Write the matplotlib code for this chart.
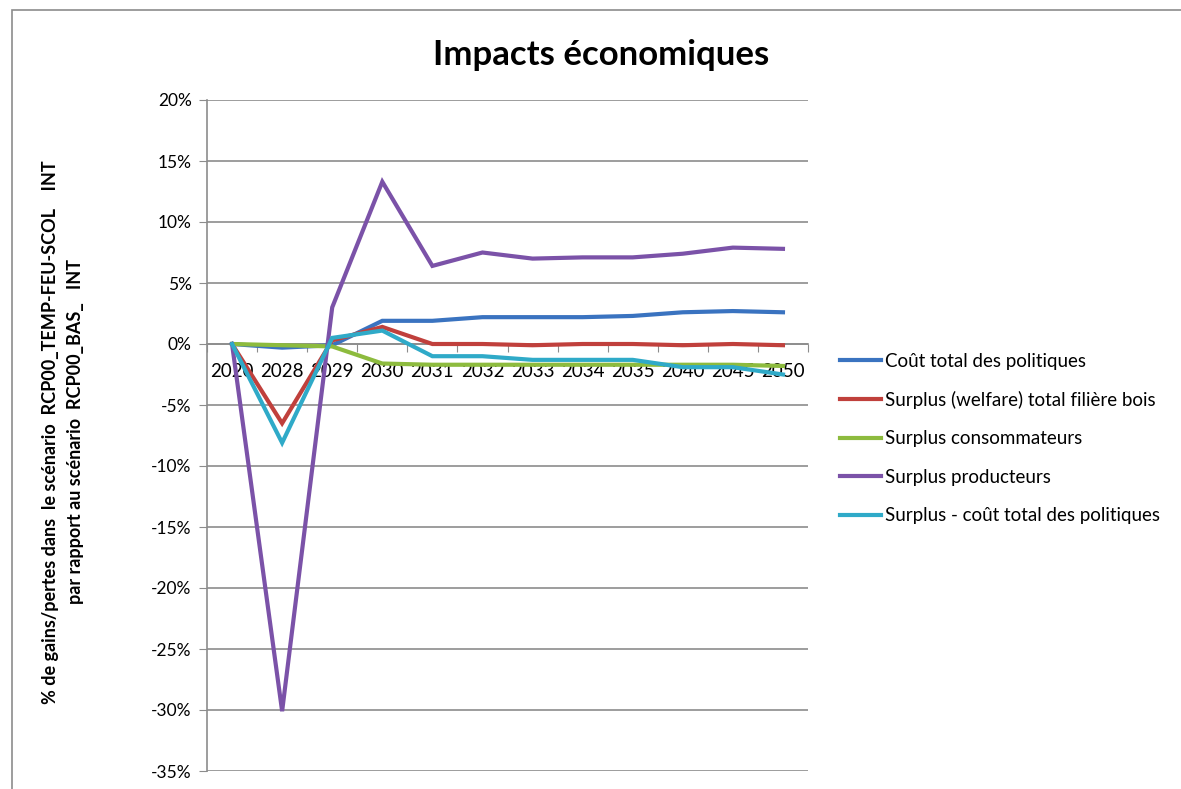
import matplotlib
matplotlib.use("Agg")
import matplotlib.pyplot as plt
from matplotlib.patches import Rectangle
from matplotlib.ticker import FixedLocator, FuncFormatter

plt.rcParams['font.family'] = ['Lato', 'DejaVu Sans']

years = ["2020", "2028", "2029", "2030", "2031", "2032", "2033", "2034", "2035", "2040", "2045", "2050"]
cout_total = [0.0, -0.3, -0.1, 1.9, 1.9, 2.2, 2.2, 2.2, 2.3, 2.6, 2.7, 2.6]
surplus_welfare = [0.0, -6.5, 0.3, 1.4, 0.0, 0.0, -0.1, 0.0, 0.0, -0.1, 0.0, -0.1]
surplus_conso = [0.0, -0.1, -0.2, -1.6, -1.7, -1.7, -1.7, -1.7, -1.7, -1.7, -1.7, -1.8]
surplus_prod = [0.0, -30.1, 3.0, 13.3, 6.4, 7.5, 7.0, 7.1, 7.1, 7.4, 7.9, 7.8]
surplus_moins_cout = [0.0, -8.1, 0.5, 1.1, -1.0, -1.0, -1.3, -1.3, -1.3, -1.9, -1.9, -2.5]

series_names = ["Coût total des politiques", "Surplus (welfare) total filière bois",
                "Surplus consommateurs", "Surplus producteurs", "Surplus - coût total des politiques"]
series_values = [cout_total, surplus_welfare, surplus_conso, surplus_prod, surplus_moins_cout]
colors = ["#3A73C0", "#C0403C", "#8DBB3E", "#7B52A8", "#2FAAC8"]

fig = plt.figure(figsize=(11.81, 7.89), dpi=100)
fig.patches.append(Rectangle((12/1181, -0.1), 1.2, 1 - 10/789 + 0.1, transform=fig.transFigure,
                             fill=False, edgecolor="#8c8c8c", linewidth=1.2))

ax = fig.add_axes([207/1181, 1 - 771/789, 601/1181, 671/789])
x = list(range(len(years)))
for name, vals, c in zip(series_names, series_values, colors):
    ax.plot(x, vals, color=c, linewidth=3, label=name, solid_joinstyle='miter', zorder=3)

ax.set_xlim(-0.5, len(years) - 0.5)
ax.set_ylim(-35, 20)
ax.set_yticks(range(-35, 21, 5))
ax.yaxis.set_major_formatter(FuncFormatter(lambda v, p: f"{int(round(v))}%"))
ax.grid(axis='y', color="#8c8c8c", linewidth=1.2)
ax.set_axisbelow(True)

for s in ["top", "right"]:
    ax.spines[s].set_visible(False)
ax.spines["left"].set_color("#8c8c8c")
ax.spines["left"].set_linewidth(1.2)
ax.spines["bottom"].set_position(("data", 0))
ax.spines["bottom"].set_color("#8c8c8c")
ax.spines["bottom"].set_linewidth(1.2)

ax.tick_params(axis='y', direction='out', length=6, color="#8c8c8c", labelsize=12.5, pad=5)
ax.xaxis.set_major_locator(FixedLocator([i + 0.5 for i in range(-1, len(years))]))
ax.xaxis.set_minor_locator(FixedLocator(x))
ax.tick_params(axis='x', which='major', direction='out', length=6, color="#8c8c8c", labelbottom=False)
ax.tick_params(axis='x', which='minor', length=0, labelsize=13.5, pad=14)
ax.set_xticks(x, years, minor=True)
for lbl in ax.xaxis.get_minorticklabels():
    lbl.set_zorder(5)

fig.text(601/1181, 1 - 55/789, "Impacts économiques", ha='center', va='center',
         fontsize=25, fontweight='bold')

fig.text(63/1181, 1 - 432/789,
         "% de gains/pertes dans  le scénario  RCP00_TEMP-FEU-SCOL    INT\npar rapport au scénario  RCP00_BAS_   INT",
         rotation=90, ha='center', va='center', fontsize=13, fontweight='bold', linespacing=1.6)

leg = fig.legend(loc='upper left', bbox_to_anchor=(832/1181, 1 - 345/789), frameon=False,
                 fontsize=13.5, handlelength=2.2, handletextpad=0.25, labelspacing=1.14,
                 borderaxespad=0)

fig.savefig("out.png", dpi=100)
